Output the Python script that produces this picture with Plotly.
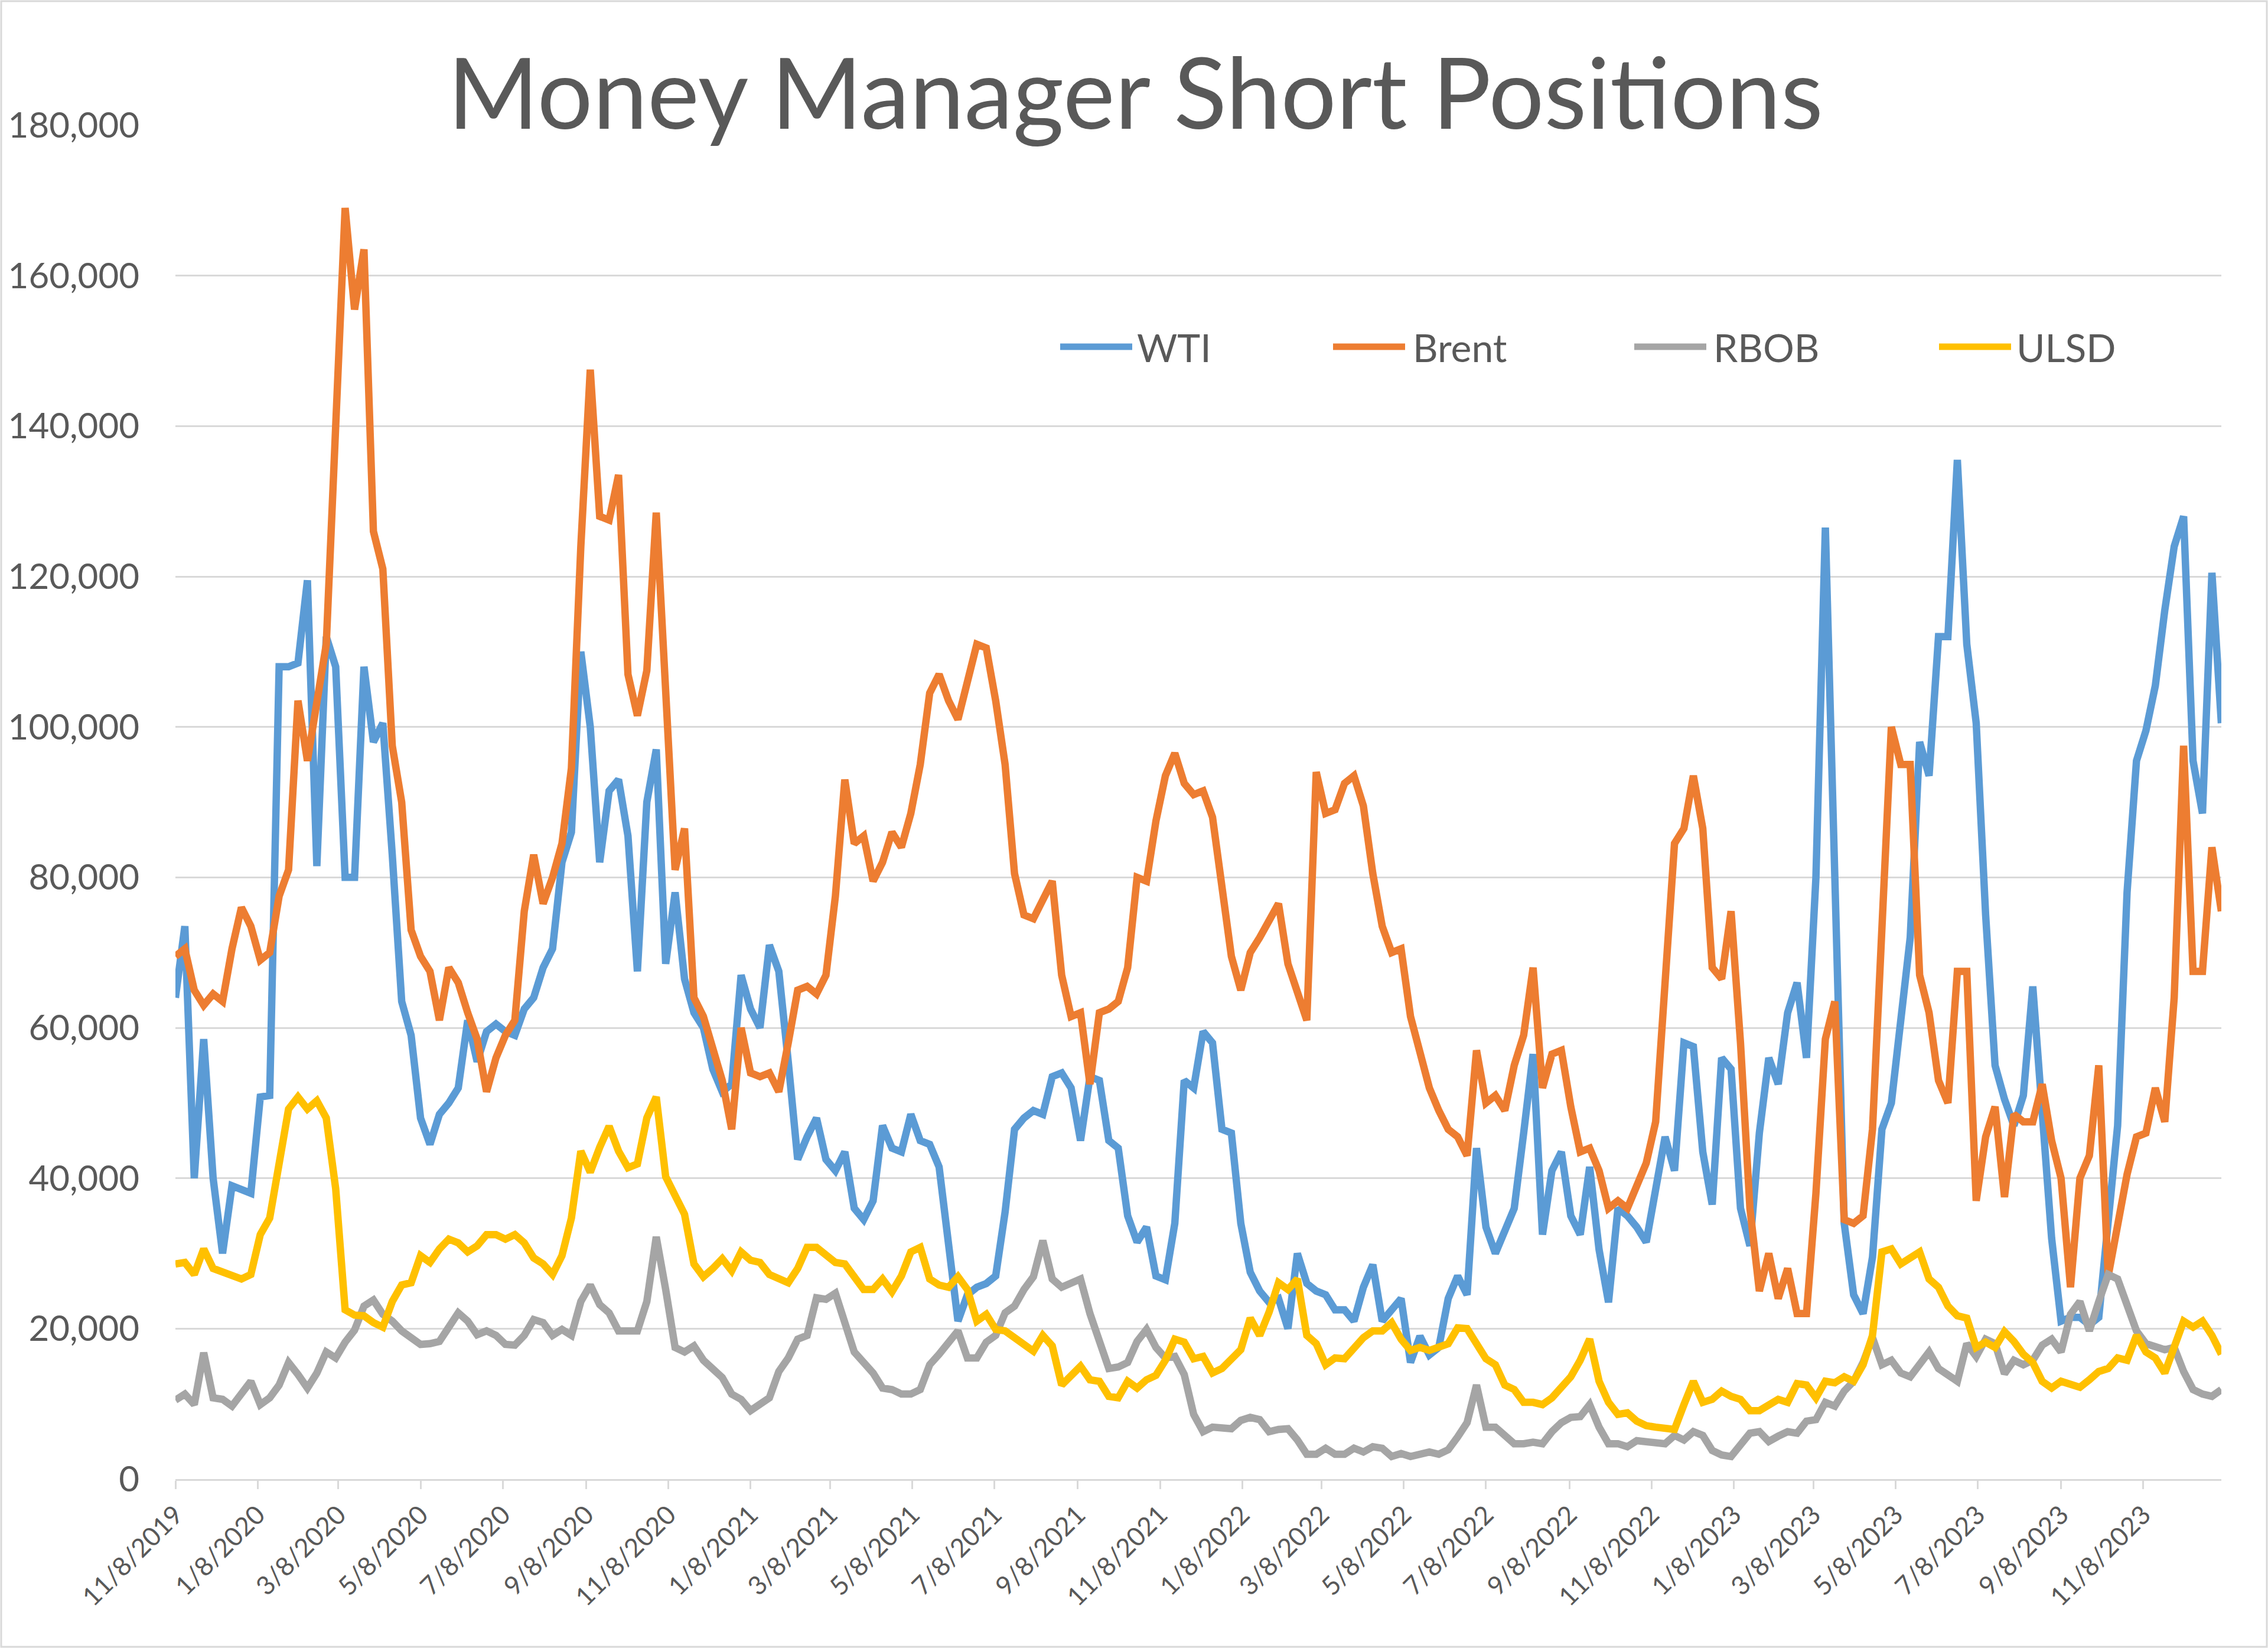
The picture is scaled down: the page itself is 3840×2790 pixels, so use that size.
import pandas as pd
import plotly.graph_objects as go

# ---------------- data ----------------
start_date = "2019-11-08"
n_weeks = 218
dates = pd.date_range(start_date, periods=n_weeks, freq="7D")

series_names = ["WTI", "Brent", "RBOB", "ULSD"]

wti = [
    64000, 73500, 40000, 58500, 40000, 30000, 39000, 38500, 38000, 50800,
    51000, 108000, 108000, 108500, 119500, 81500, 112000, 108000, 80000, 80000,
    108000, 98000, 100500, 83000, 63500, 59000, 48000, 44500, 48500, 50000,
    52000, 61000, 55500, 59500, 60500, 59500, 59000, 62500, 64000, 68000,
    70500, 82000, 86000, 110000, 100000, 82000, 91500, 93000, 85500, 67500,
    90000, 97000, 68500, 78000, 66500, 62000, 60000, 54500, 51500, 52500,
    67000, 62500, 60000, 71000, 67500, 55500, 42500, 45500, 48000, 42500,
    41000, 43500, 36000, 34500, 37000, 47000, 44000, 43500, 48500, 45000,
    44500, 41500, 31500, 21000, 24500, 25500, 26000, 27000, 35500, 46500,
    48000, 49000, 48500, 53500, 54000, 52000, 45000, 53500, 53000, 45000,
    44000, 35000, 31500, 33500, 27000, 26500, 34000, 53000, 52000, 59500,
    58000, 46500, 46000, 34000, 27500, 25000, 23500, 24000, 20000, 30000,
    26000, 25000, 24500, 22500, 22500, 21000, 25500, 28500, 21000, 22500,
    24000, 15500, 19000, 16500, 17500, 24000, 27000, 24500, 44000, 33500,
    30000, 33000, 36000, 46000, 56500, 32500, 41000, 43500, 35000, 32500,
    41500, 30500, 23500, 36000, 35000, 33500, 31500, 38500, 45500, 41000,
    58000, 57500, 43500, 36500, 56000, 54500, 36000, 31000, 46000, 56000,
    52500, 62000, 66000, 56000, 80000, 126500, 80000, 34000, 24500, 22000,
    29500, 46500, 50000, 61000, 72000, 98000, 93500, 112000, 112000, 135500,
    111000, 100500, 75000, 55000, 50500, 47000, 51000, 65500, 50000, 32000,
    21000, 21500, 21500, 20500, 21500, 34000, 47000, 78000, 95500, 99500,
    105500, 115500, 124000, 128000, 95500, 88500, 120500, 100500,
]

brent = [
    69500, 70500, 65000, 63000, 64500, 63500, 70500, 76000, 73500, 69000,
    70000, 77500, 81000, 103500, 95500, 104000, 111000, 140000, 169000, 155500,
    163500, 126000, 121000, 97500, 90000, 73000, 69500, 67500, 61000, 68000,
    66000, 62000, 58500, 51500, 56000, 59000, 61000, 75500, 83000, 76500,
    80000, 84500, 94500, 124000, 147500, 128000, 127500, 133500, 107000, 101500,
    107500, 128500, 103000, 81000, 86500, 64000, 61500, 57500, 53000, 46500,
    60000, 54000, 53500, 54000, 51500, 58000, 65000, 65500, 64500, 67000,
    77500, 93000, 84500, 85500, 79500, 82000, 86000, 84000, 88500, 95000,
    104500, 107000, 103500, 101000, 106000, 111000, 110500, 103500, 95000, 80500,
    75000, 74500, 77000, 79500, 67000, 61500, 62000, 52500, 62000, 62500,
    63500, 68000, 80000, 79500, 87500, 93500, 96500, 92500, 91000, 91500,
    88000, 78000, 69500, 65000, 70000, 72000, 74500, 76500, 68500, 65000,
    61000, 94000, 88500, 89000, 92500, 93500, 89500, 80500, 73500, 70000,
    70500, 61500, 57000, 52000, 49000, 46500, 45500, 43000, 57000, 50000,
    51000, 49000, 55000, 59000, 68000, 52000, 56500, 57000, 49500, 43500,
    44000, 41000, 36000, 37000, 36000, 39000, 42000, 47500, 65000, 84500,
    86500, 93500, 86500, 68000, 66500, 75500, 58000, 36000, 25000, 30000,
    24000, 28000, 22000, 22000, 38000, 58500, 63500, 34500, 34000, 35000,
    46500, 73000, 100000, 95000, 95000, 67000, 62000, 53000, 50000, 67500,
    67500, 37000, 45500, 49500, 37500, 48500, 47500, 47500, 52500, 45000,
    40000, 25500, 40000, 43000, 55000, 27000, 33500, 40500, 45500, 46000,
    52000, 47500, 64000, 97500, 67500, 67500, 84000, 75500,
]

rbob = [
    10500, 11300, 9900, 16800, 10800, 10600, 9700, 11300, 13000, 9900,
    10800, 12500, 15500, 13900, 12100, 14100, 16900, 16100, 18200, 19800,
    23000, 23800, 21900, 21000, 19700, 18800, 17900, 18000, 18300, 20200,
    22100, 21000, 19200, 19700, 19100, 17900, 17800, 19100, 21200, 20800,
    19100, 19900, 19100, 23600, 25800, 23200, 22100, 19700, 19700, 19700,
    23600, 32200, 25200, 17500, 16900, 17700, 15800, 14700, 13500, 11300,
    10600, 9100, 9900, 10800, 14300, 16100, 18600, 19100, 24100, 23900,
    24700, 20800, 16900, 15500, 14100, 12100, 11900, 11300, 11300, 11900,
    15200, 16600, 18000, 19700, 16100, 16100, 18200, 19100, 22100, 23000,
    25200, 26900, 31700, 26600, 25500, 26100, 26600, 22000, 18000, 14700,
    14900, 15500, 18300, 19900, 17500, 16100, 16300, 13900, 8600, 6300,
    6900, 6900, 6700, 7800, 8200, 7900, 6300, 6600, 6700, 5200,
    3300, 3300, 4100, 3300, 3300, 4100, 3600, 4300, 4100, 3000,
    3400, 3000, 3300, 3600, 3300, 3900, 5600, 7500, 12500, 6900,
    6900, 5800, 4700, 4700, 4900, 4700, 6300, 7500, 8200, 8300,
    9900, 6900, 4700, 4700, 4300, 5100, 4900, 4700, 4700, 5800,
    5200, 6300, 5800, 3800, 3200, 3000, 4700, 6100, 6300, 5000,
    5700, 6300, 6100, 7700, 7900, 10200, 9700, 11700, 13000, 15500,
    18800, 15200, 15800, 14100, 13600, 15200, 16900, 14700, 13900, 13000,
    18000, 16300, 18600, 18000, 14000, 15800, 15200, 15800, 17800, 18600,
    16900, 21900, 23600, 19700, 23600, 27200, 26600, 22800, 19700, 18000,
    17500, 17200, 17500, 14300, 11900, 11300, 11000, 11900,
]

ulsd = [
    28600, 28800, 27200, 30600, 28000, 27500, 27100, 26600, 27200, 32500,
    34700, 42500, 49200, 50800, 49200, 50300, 48000, 38600, 22500, 21800,
    21700, 20800, 20200, 23600, 25800, 26100, 29700, 28800, 30600, 31900,
    31400, 30200, 31000, 32500, 32500, 31900, 32500, 31400, 29400, 28600,
    27200, 29700, 34700, 43600, 40800, 44100, 46900, 43600, 41400, 41900,
    48000, 50800, 40200, 37700, 35200, 28600, 26900, 28000, 29300, 27700,
    30200, 29100, 28800, 27200, 26600, 26100, 28000, 30800, 30800, 29700,
    28800, 28600, 26900, 25200, 25200, 26600, 24900, 27000, 30200, 30800,
    26600, 25800, 25500, 26900, 25200, 21000, 21900, 19900, 19700, 18800,
    17700, 17000, 19100, 17700, 12500, 13600, 15000, 13200, 13000, 11000,
    10800, 13000, 12100, 13200, 13800, 15800, 18600, 18200, 16000, 16300,
    14100, 14700, 16000, 17200, 21400, 19100, 22200, 26100, 25200, 26600,
    19100, 18000, 15200, 16100, 16000, 17500, 18800, 19700, 19700, 20800,
    18600, 17100, 17500, 17100, 17500, 18000, 20100, 20000, 18000, 16000,
    15200, 12500, 11900, 10200, 10200, 9900, 10800, 12100, 13600, 15800,
    18600, 13000, 10200, 8600, 8800, 7700, 7100, 6900, 6700, 6600,
    9900, 13000, 10200, 10600, 11700, 11000, 10600, 9100, 9100, 9900,
    10600, 10200, 12700, 12500, 10800, 13000, 12800, 13600, 13000, 15200,
    19100, 30200, 30600, 28600, 29500, 30200, 26600, 25500, 23000, 21700,
    21400, 17500, 18200, 17500, 19600, 18300, 16600, 15500, 13000, 12100,
    13000, 12700, 12200, 13200, 14300, 14700, 16100, 15800, 19100, 16900,
    16100, 14100, 17500, 21000, 20200, 21000, 19100, 16600,
]

tick_vals = [
    "2019-11-08", "2020-01-08", "2020-03-08", "2020-05-08", "2020-07-08",
    "2020-09-08", "2020-11-08", "2021-01-08", "2021-03-08", "2021-05-08",
    "2021-07-08", "2021-09-08", "2021-11-08", "2022-01-08", "2022-03-08",
    "2022-05-08", "2022-07-08", "2022-09-08", "2022-11-08", "2023-01-08",
    "2023-03-08", "2023-05-08", "2023-07-08", "2023-09-08", "2023-11-08",
]
tick_text = [
    "11/8/2019", "1/8/2020", "3/8/2020", "5/8/2020", "7/8/2020",
    "9/8/2020", "11/8/2020", "1/8/2021", "3/8/2021", "5/8/2021",
    "7/8/2021", "9/8/2021", "11/8/2021", "1/8/2022", "3/8/2022",
    "5/8/2022", "7/8/2022", "9/8/2022", "11/8/2022", "1/8/2023",
    "3/8/2023", "5/8/2023", "7/8/2023", "9/8/2023", "11/8/2023",
]

title_text = "Money Manager Short Positions"

# ---------------- style ----------------
colors = ["#5B9BD5", "#ED7D31", "#A5A5A5", "#FFC000"]
text_color = "#595959"
grid_color = "#D9D9D9"
FONT = "Lato"

W, H = 3840, 2790
L, R, T, B = 297, 79, 212, 286
PW = W - L - R
PH = H - T - B


def px(x):
    return (x - L) / PW


def py(y):
    return (H - B - y) / PH


fig = go.Figure()
for name, vals, color in zip(series_names, [wti, brent, rbob, ulsd], colors):
    fig.add_trace(go.Scatter(
        x=dates, y=vals, mode="lines", name=name,
        line=dict(color=color, width=12.5),
        showlegend=False,
    ))

fig.update_layout(
    width=W, height=H,
    margin=dict(l=L, r=R, t=T, b=B, pad=0),
    paper_bgcolor="white", plot_bgcolor="white",
    font=dict(family=FONT, color=text_color),
    showlegend=False,
)

fig.update_xaxes(
    type="date",
    range=[dates[0], dates[-1]],
    tickmode="array", tickvals=tick_vals, ticktext=tick_text,
    tickangle=-45,
    tickfont=dict(family=FONT, size=44, color=text_color),
    showgrid=False, zeroline=False,
    showline=True, linecolor=grid_color, linewidth=3,
    ticks="outside", ticklen=14, tickcolor=grid_color, tickwidth=3,
)
fig.update_yaxes(
    range=[0, 180000], tick0=0, dtick=20000, tickformat=",d",
    showgrid=True, gridcolor=grid_color, gridwidth=3,
    zeroline=False, showline=False, ticks="",
    tickfont=dict(family=FONT, size=60, color=text_color),
    ticklabelstandoff=60,
)

annotations = [
    dict(text=title_text, xref="paper", yref="paper",
         x=px(1922), y=py(154), xanchor="center", yanchor="middle",
         showarrow=False, font=dict(family=FONT, size=166, color=text_color)),
]
shapes = [
    dict(type="rect", xref="paper", yref="paper",
         x0=px(2), x1=px(3838), y0=py(2788), y1=py(2),
         line=dict(color=grid_color, width=3), fillcolor="rgba(0,0,0,0)", layer="below"),
]

legend_line_x = [(1795, 1917), (2257, 2379), (2767, 2889), (3283, 3405)]
legend_text_x = [1923, 2390, 2899, 3412]
legend_y = 587
for name, color, (x0, x1), tx in zip(series_names, colors, legend_line_x, legend_text_x):
    shapes.append(dict(type="line", xref="paper", yref="paper",
                       x0=px(x0), x1=px(x1), y0=py(legend_y), y1=py(legend_y),
                       line=dict(color=color, width=11)))
    annotations.append(dict(text=name, xref="paper", yref="paper",
                            x=px(tx), y=py(legend_y), xanchor="left", yanchor="middle",
                            showarrow=False,
                            font=dict(family=FONT, size=66, color=text_color)))

fig.update_layout(annotations=annotations, shapes=shapes)

fig.write_html("out.html")
